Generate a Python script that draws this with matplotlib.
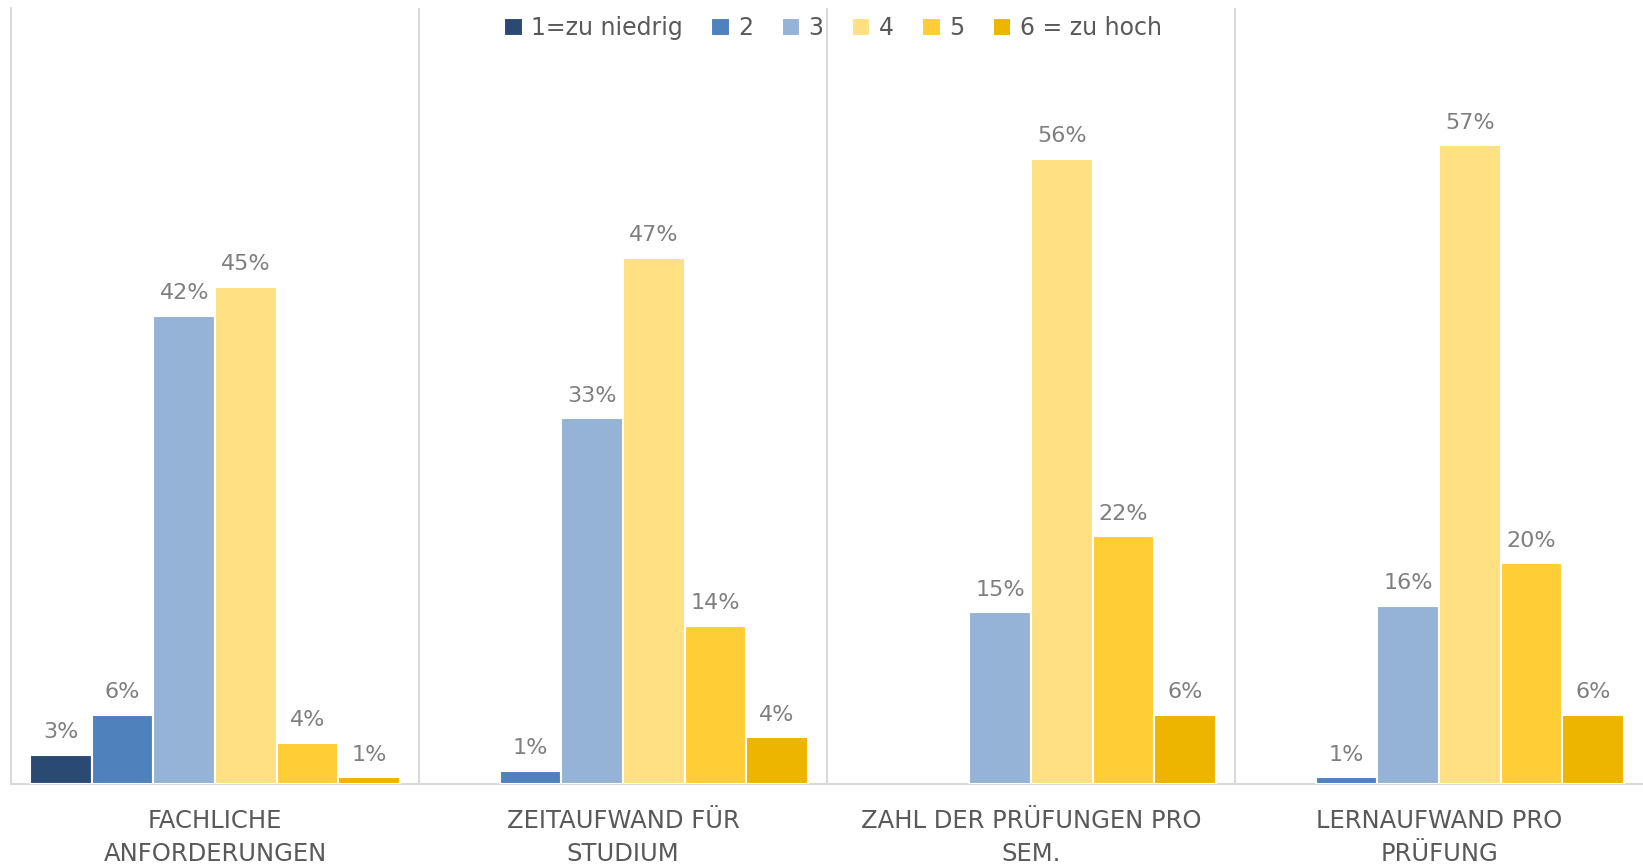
import numpy as np
import matplotlib
matplotlib.use('Agg')
import matplotlib.pyplot as plt

plt.rcParams['font.family'] = ['DejaVu Sans']

# ============ Daten ============
categories = ['FACHLICHE\nANFORDERUNGEN', 'ZEITAUFWAND FÜR\nSTUDIUM',
              'ZAHL DER PRÜFUNGEN PRO\nSEM.', 'LERNAUFWAND PRO\nPRÜFUNG']
series_names = ['1=zu niedrig', '2', '3', '4', '5', '6 = zu hoch']
nan = np.nan
s1 = [0.026, nan, nan, nan]
s2 = [0.062, 0.012, nan, 0.006]
s3 = [0.420, 0.328, 0.154, 0.160]
s4 = [0.446, 0.472, 0.561, 0.573]
s5 = [0.037, 0.142, 0.222, 0.198]
s6 = [0.006, 0.042, 0.062, 0.062]
series = [s1, s2, s3, s4, s5, s6]
colors = ['#2a4a73', '#4f81bd', '#95b3d7', '#ffe082', '#ffcd36', '#edb400']

fig = plt.figure(figsize=(16.43, 8.68), dpi=100)
ax = fig.add_axes([0.0067, 0.0968, 0.9933, 0.894])

x = np.arange(len(categories))
w = 0.151
for k, (vals, name, c) in enumerate(zip(series, series_names, colors)):
    pos = x + (k - 2.5) * w
    vals = np.array(vals, dtype=float)
    ax.bar(pos, vals, width=w, color=c, edgecolor='white', linewidth=1.5,
           label=name, zorder=3)
    for p, v in zip(pos, vals):
        if np.isnan(v):
            continue
        ax.annotate(f'{v:.0%}', (p, v), xytext=(0, 9), textcoords='offset points',
                    ha='center', va='bottom', fontsize=16, color='#7f7f7f')

ax.set_xlim(-0.5, 3.5)
ax.set_ylim(0, 0.696)
ax.set_yticks([])
ax.set_xticks(x)
ax.set_xticklabels(categories, fontsize=17.5, color='#595959', linespacing=1.45)
ax.tick_params(axis='x', length=0, pad=18)

for s in ['top', 'right']:
    ax.spines[s].set_visible(False)
for s in ['left', 'bottom']:
    ax.spines[s].set_color('#d9d9d9')
    ax.spines[s].set_linewidth(1.5)
for xv in [0.5, 1.5, 2.5]:
    ax.axvline(xv, color='#d9d9d9', linewidth=1.5, zorder=1)

leg = fig.legend(loc='center', bbox_to_anchor=(0.507, 0.968), ncol=6, frameon=False,
                 fontsize=17, handlelength=0.79, handleheight=0.79,
                 handletextpad=0.36, columnspacing=1.19, borderaxespad=0)
for t in leg.get_texts():
    t.set_color('#595959')

fig.savefig('out.png', dpi=100)
